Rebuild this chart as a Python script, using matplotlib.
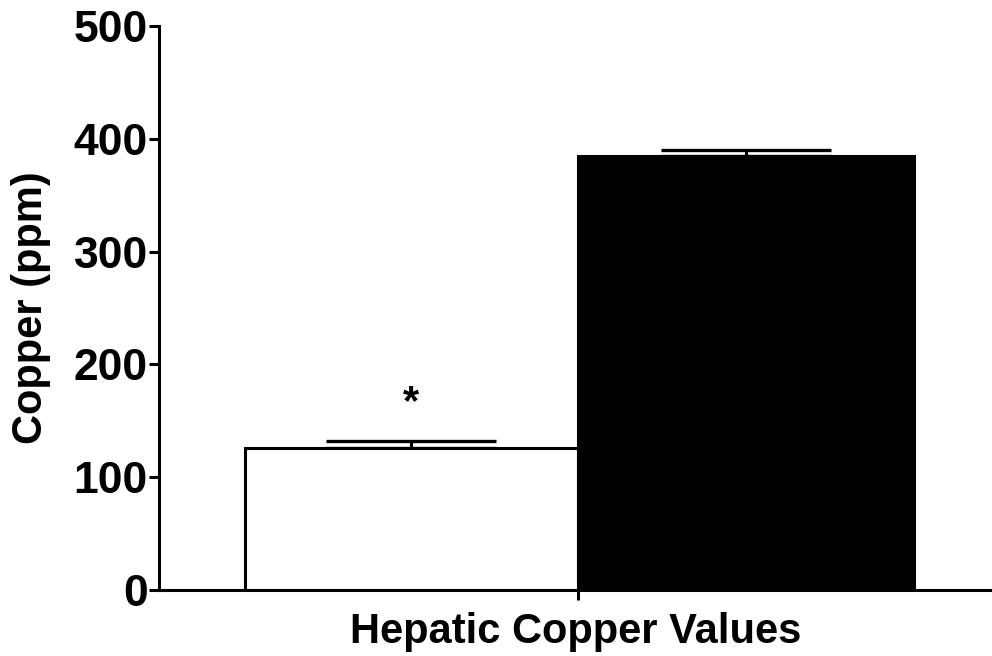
import matplotlib
matplotlib.use("Agg")
import matplotlib.pyplot as plt

groups = ["Group A", "Group B"]
copper_means = [126, 385]
copper_sem = [6, 5]
bar_colors = ["white", "black"]
y_ticks = [0, 100, 200, 300, 400, 500]

plt.rcParams['font.family'] = ['Liberation Sans', 'DejaVu Sans']
plt.rcParams['font.weight'] = 'bold'

fig = plt.figure(figsize=(9.92, 6.56), dpi=100)
ax = fig.add_axes([0.1603, 0.1006, 0.8397, 0.8598])

xpos = [0, 1.005]
ax.bar(xpos, copper_means, width=[1.0, 1.01], color=bar_colors, edgecolor="black",
       linewidth=2.2, zorder=2)
for x, m, e in zip(xpos, copper_means, copper_sem):
    eb = ax.errorbar(x, m, yerr=[[0], [e]], fmt="none", ecolor="black",
                     elinewidth=2.2, capsize=61, capthick=2.4, zorder=1)
    for cap in eb[1]:
        cap.set_solid_capstyle("round")

# significance marker
ax.text(0, copper_means[0] + copper_sem[0] + 34, "*", ha="center", va="center",
        fontsize=30, fontweight="bold")

ax.set_xlim(-0.758, 1.743)
ax.set_ylim(0, 500)
ax.set_yticks(y_ticks)
ax.set_xticks([0.5])
ax.set_xticklabels([""])
ax.set_xlabel("Hepatic Copper Values", fontsize=30, fontweight="bold", labelpad=5)
ax.set_ylabel("Copper (ppm)", fontsize=30, fontweight="bold", labelpad=16)

for s in ["top", "right"]:
    ax.spines[s].set_visible(False)
for s in ["left", "bottom"]:
    ax.spines[s].set_linewidth(2.2)

ax.tick_params(axis="y", labelsize=32, width=2.2, length=7, pad=1)
ax.tick_params(axis="x", width=2.2, length=7)
for lab in ax.get_yticklabels():
    lab.set_fontweight("bold")

fig.savefig("out.png", dpi=100)
